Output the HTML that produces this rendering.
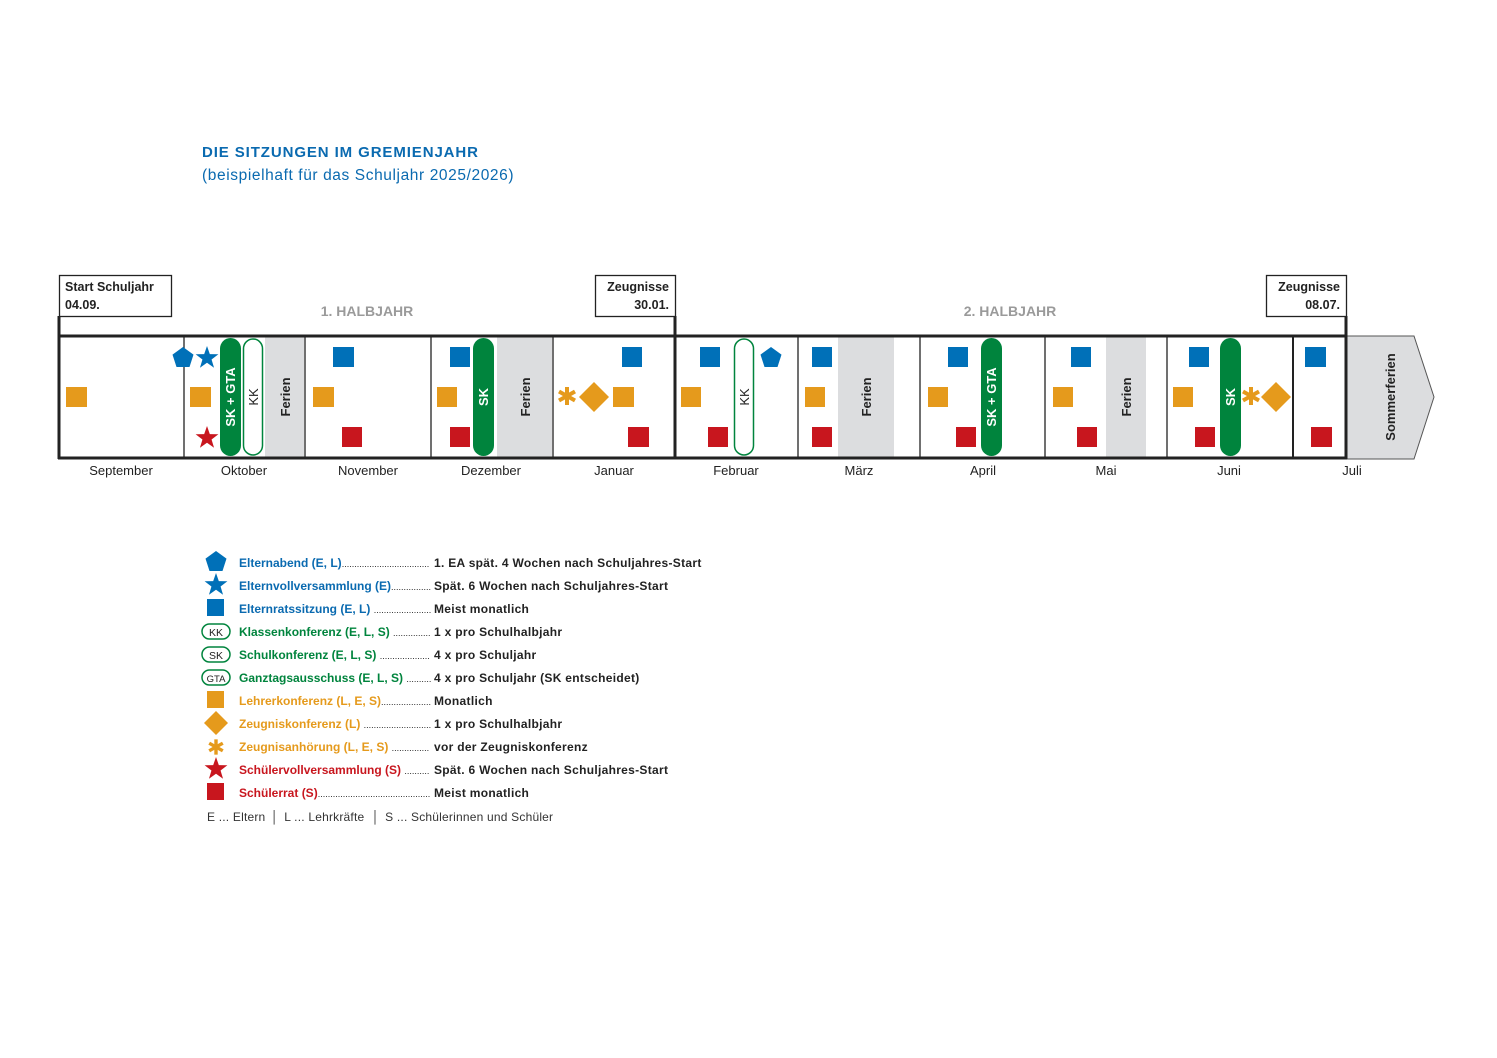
<!DOCTYPE html>
<html><head><meta charset="utf-8"><style>
html,body{margin:0;padding:0;background:#fff;}
svg{display:block;font-family:"Liberation Sans",sans-serif;}
</style></head><body>
<svg width="1497" height="1058" viewBox="0 0 1497 1058" xmlns="http://www.w3.org/2000/svg">
<defs>
<symbol id="pent" overflow="visible"><polygon points="0,-11 10.5,-3.4 6.5,9 -6.5,9 -10.5,-3.4"/></symbol>
<symbol id="star" overflow="visible"><polygon points="0,-12 2.82,-3.88 11.4,-3.7 4.56,1.48 7.05,9.7 0,4.8 -7.05,9.7 -4.56,1.48 -11.4,-3.7 -2.82,-3.88"/></symbol>
<symbol id="dia" overflow="visible"><polygon points="0,-15 15,0 0,15 -15,0"/></symbol>
<symbol id="ast" overflow="visible"><g stroke-width="4"><line x1="0" y1="-9" x2="0" y2="9"/><line x1="-8" y1="-4.5" x2="8" y2="4.5"/><line x1="-8" y1="4.5" x2="8" y2="-4.5"/></g></symbol>
</defs>

<text x="202" y="157" font-size="15" font-weight="bold" fill="#0a6ab0" letter-spacing="0.9">DIE SITZUNGEN IM GREMIENJAHR</text>
<text x="202" y="180" font-size="15.5" fill="#0a6ab0" letter-spacing="0.6">(beispielhaft für das Schuljahr 2025/2026)</text>

<g fill="#dcdddf">
<rect x="265" y="337" width="39" height="121"/>
<rect x="497" y="337" width="55" height="121"/>
<rect x="838" y="337" width="56" height="121"/>
<rect x="1106" y="337" width="40" height="121"/>
</g>
<polygon points="1346,336 1414,336 1434,397 1414,459 1346,459" fill="#dcdddf" stroke="#555" stroke-width="1"/>

<g stroke="#222" fill="none">
<line x1="59" y1="316" x2="59" y2="459" stroke-width="3"/>
<line x1="675" y1="316" x2="675" y2="459" stroke-width="3"/>
<line x1="1346" y1="316" x2="1346" y2="459" stroke-width="3"/>
<line x1="58" y1="336" x2="1347" y2="336" stroke-width="3"/>
<line x1="58" y1="458" x2="1347" y2="458" stroke-width="3"/>
<line x1="1293" y1="336" x2="1293" y2="459" stroke-width="2"/>
<g stroke-width="1.3">
<line x1="184" y1="336" x2="184" y2="458"/>
<line x1="305" y1="336" x2="305" y2="458"/>
<line x1="431" y1="336" x2="431" y2="458"/>
<line x1="553" y1="336" x2="553" y2="458"/>
<line x1="798" y1="336" x2="798" y2="458"/>
<line x1="920" y1="336" x2="920" y2="458"/>
<line x1="1045" y1="336" x2="1045" y2="458"/>
<line x1="1167" y1="336" x2="1167" y2="458"/>
</g>
<rect x="59.5" y="275.5" width="112" height="41" fill="#fff" stroke-width="1.3"/>
<rect x="595.5" y="275.5" width="80" height="41" fill="#fff" stroke-width="1.3"/>
<rect x="1266.5" y="275.5" width="80" height="41" fill="#fff" stroke-width="1.3"/>
</g>
<g font-size="12.5" font-weight="bold" fill="#222">
<text x="65" y="291">Start Schuljahr</text><text x="65" y="309">04.09.</text>
<text x="669" y="291" text-anchor="end">Zeugnisse</text><text x="669" y="309" text-anchor="end">30.01.</text>
<text x="1340" y="291" text-anchor="end">Zeugnisse</text><text x="1340" y="309" text-anchor="end">08.07.</text>
</g>
<g font-size="14" font-weight="bold" fill="#9a9a9a" text-anchor="middle">
<text x="367" y="316">1. HALBJAHR</text>
<text x="1010" y="316">2. HALBJAHR</text>
</g>

<g font-size="13" fill="#222" text-anchor="middle">
<text x="121" y="475">September</text><text x="244" y="475">Oktober</text><text x="368" y="475">November</text>
<text x="491" y="475">Dezember</text><text x="614" y="475">Januar</text><text x="736" y="475">Februar</text>
<text x="859" y="475">März</text><text x="983" y="475">April</text><text x="1106" y="475">Mai</text>
<text x="1229" y="475">Juni</text><text x="1352" y="475">Juli</text>
</g>

<g font-size="13" font-weight="bold" fill="#222" text-anchor="middle">
<text transform="translate(290,397) rotate(-90)">Ferien</text>
<text transform="translate(530,397) rotate(-90)">Ferien</text>
<text transform="translate(871,397) rotate(-90)">Ferien</text>
<text transform="translate(1131,397) rotate(-90)">Ferien</text>
<text transform="translate(1395,397) rotate(-90)">Sommerferien</text>
</g>

<g fill="#00843d">
<rect x="220" y="338" width="21" height="118" rx="10.5"/>
<rect x="473" y="338" width="21" height="118" rx="10.5"/>
<rect x="981" y="338" width="21" height="118" rx="10.5"/>
<rect x="1220" y="338" width="21" height="118" rx="10.5"/>
</g>
<g fill="#fff" stroke="#00843d" stroke-width="1.5">
<rect x="243.5" y="339" width="19" height="116" rx="9.5"/>
<rect x="734.5" y="339" width="19" height="116" rx="9.5"/>
</g>
<g font-size="13" font-weight="bold" fill="#fff" text-anchor="middle">
<text transform="translate(235,397) rotate(-90)">SK + GTA</text>
<text transform="translate(488,397) rotate(-90)">SK</text>
<text transform="translate(996,397) rotate(-90)">SK + GTA</text>
<text transform="translate(1235,397) rotate(-90)">SK</text>
</g>
<g font-size="13" fill="#222" text-anchor="middle">
<text transform="translate(258,397) rotate(-90)">KK</text>
<text transform="translate(749,397) rotate(-90)">KK</text>
</g>

<g fill="#0070b8">
<rect x="333" y="347" width="21" height="20"/><rect x="450" y="347" width="20" height="20"/>
<rect x="622" y="347" width="20" height="20"/><rect x="700" y="347" width="20" height="20"/>
<rect x="812" y="347" width="20" height="20"/><rect x="948" y="347" width="20" height="20"/>
<rect x="1071" y="347" width="20" height="20"/><rect x="1189" y="347" width="20" height="20"/>
<rect x="1305" y="347" width="21" height="20"/>
<use href="#pent" x="183" y="358"/><use href="#pent" x="771" y="358"/>
<use href="#star" x="207" y="358"/>
</g>
<g fill="#e59a1c">
<rect x="66" y="387" width="21" height="20"/><rect x="190" y="387" width="21" height="20"/>
<rect x="313" y="387" width="21" height="20"/><rect x="437" y="387" width="20" height="20"/>
<rect x="613" y="387" width="21" height="20"/><rect x="681" y="387" width="20" height="20"/>
<rect x="805" y="387" width="20" height="20"/><rect x="928" y="387" width="20" height="20"/>
<rect x="1053" y="387" width="20" height="20"/><rect x="1173" y="387" width="20" height="20"/>
<use href="#dia" x="594" y="397"/><use href="#dia" x="1276" y="397"/>
</g>
<g stroke="#e59a1c"><use href="#ast" x="567" y="396"/><use href="#ast" x="1251" y="396"/></g>
<g fill="#c8161e">
<rect x="342" y="427" width="20" height="20"/><rect x="450" y="427" width="20" height="20"/>
<rect x="628" y="427" width="21" height="20"/><rect x="708" y="427" width="20" height="20"/>
<rect x="812" y="427" width="20" height="20"/><rect x="956" y="427" width="20" height="20"/>
<rect x="1077" y="427" width="20" height="20"/><rect x="1195" y="427" width="20" height="20"/>
<rect x="1311" y="427" width="21" height="20"/>
<use href="#star" x="207" y="438"/>
</g>

<g>
<use href="#pent" x="216" y="562" fill="#0070b8"/>
<use href="#star" x="216" y="585" fill="#0070b8"/>
<rect x="207" y="599" width="17" height="17" fill="#0070b8"/>
<g fill="#fff" stroke="#00843d" stroke-width="1.5">
<rect x="202" y="624" width="28" height="15" rx="7.5"/>
<rect x="202" y="647" width="28" height="15" rx="7.5"/>
<rect x="202" y="670" width="28" height="15" rx="7.5"/>
</g>
<g font-size="10.5" fill="#222" text-anchor="middle">
<text x="216" y="636">KK</text><text x="216" y="659">SK</text><text x="216" y="682" font-size="9.5">GTA</text>
</g>
<rect x="207" y="691" width="17" height="17" fill="#e59a1c"/>
<polygon points="216,711 228,723 216,735 204,723" fill="#e59a1c"/>
<g stroke="#e59a1c" transform="translate(216,747) scale(0.85)"><use href="#ast"/></g>
<use href="#star" x="216" y="769" fill="#c8161e"/>
<rect x="207" y="783" width="17" height="17" fill="#c8161e"/>
</g>
<g font-size="12" font-weight="bold">
<g fill="#0a6ab0">
<text x="239" y="567">Elternabend (E, L)<tspan font-weight="normal" fill="#222" font-size="9">...................................</tspan></text>
<text x="239" y="590">Elternvollversammlung (E)<tspan font-weight="normal" fill="#222" font-size="9">................</tspan></text>
<text x="239" y="613">Elternratssitzung (E, L) <tspan font-weight="normal" fill="#222" font-size="9">.......................</tspan></text>
</g>
<g fill="#00843d">
<text x="239" y="636">Klassenkonferenz (E, L, S) <tspan font-weight="normal" fill="#222" font-size="9">...............</tspan></text>
<text x="239" y="659">Schulkonferenz (E, L, S) <tspan font-weight="normal" fill="#222" font-size="9">....................</tspan></text>
<text x="239" y="682">Ganztagsausschuss (E, L, S) <tspan font-weight="normal" fill="#222" font-size="9">..........</tspan></text>
</g>
<g fill="#e59a1c">
<text x="239" y="705">Lehrerkonferenz (L, E, S)<tspan font-weight="normal" fill="#222" font-size="9">....................</tspan></text>
<text x="239" y="728">Zeugniskonferenz (L) <tspan font-weight="normal" fill="#222" font-size="9">...........................</tspan></text>
<text x="239" y="751">Zeugnisanhörung (L, E, S) <tspan font-weight="normal" fill="#222" font-size="9">...............</tspan></text>
</g>
<g fill="#c8161e">
<text x="239" y="774">Schülervollversammlung (S) <tspan font-weight="normal" fill="#222" font-size="9">..........</tspan></text>
<text x="239" y="797">Schülerrat (S)<tspan font-weight="normal" fill="#222" font-size="9">.............................................</tspan></text>
</g>
<g fill="#222" letter-spacing="0.3">
<text x="434" y="567">1. EA spät. 4 Wochen nach Schuljahres-Start</text>
<text x="434" y="590">Spät. 6 Wochen nach Schuljahres-Start</text>
<text x="434" y="613">Meist monatlich</text>
<text x="434" y="636">1 x pro Schulhalbjahr</text>
<text x="434" y="659">4 x pro Schuljahr</text>
<text x="434" y="682">4 x pro Schuljahr (SK entscheidet)</text>
<text x="434" y="705">Monatlich</text>
<text x="434" y="728">1 x pro Schulhalbjahr</text>
<text x="434" y="751">vor der Zeugniskonferenz</text>
<text x="434" y="774">Spät. 6 Wochen nach Schuljahres-Start</text>
<text x="434" y="797">Meist monatlich</text>
</g>
</g>
<text x="207" y="821" font-size="12" fill="#333" letter-spacing="0.2">E ... Eltern  <tspan dx="2">│</tspan> <tspan dx="2">L ... Lehrkräfte</tspan> <tspan dx="4">│</tspan> <tspan dx="2">S ... Schülerinnen und Schüler</tspan></text>
</svg>
</body></html>
